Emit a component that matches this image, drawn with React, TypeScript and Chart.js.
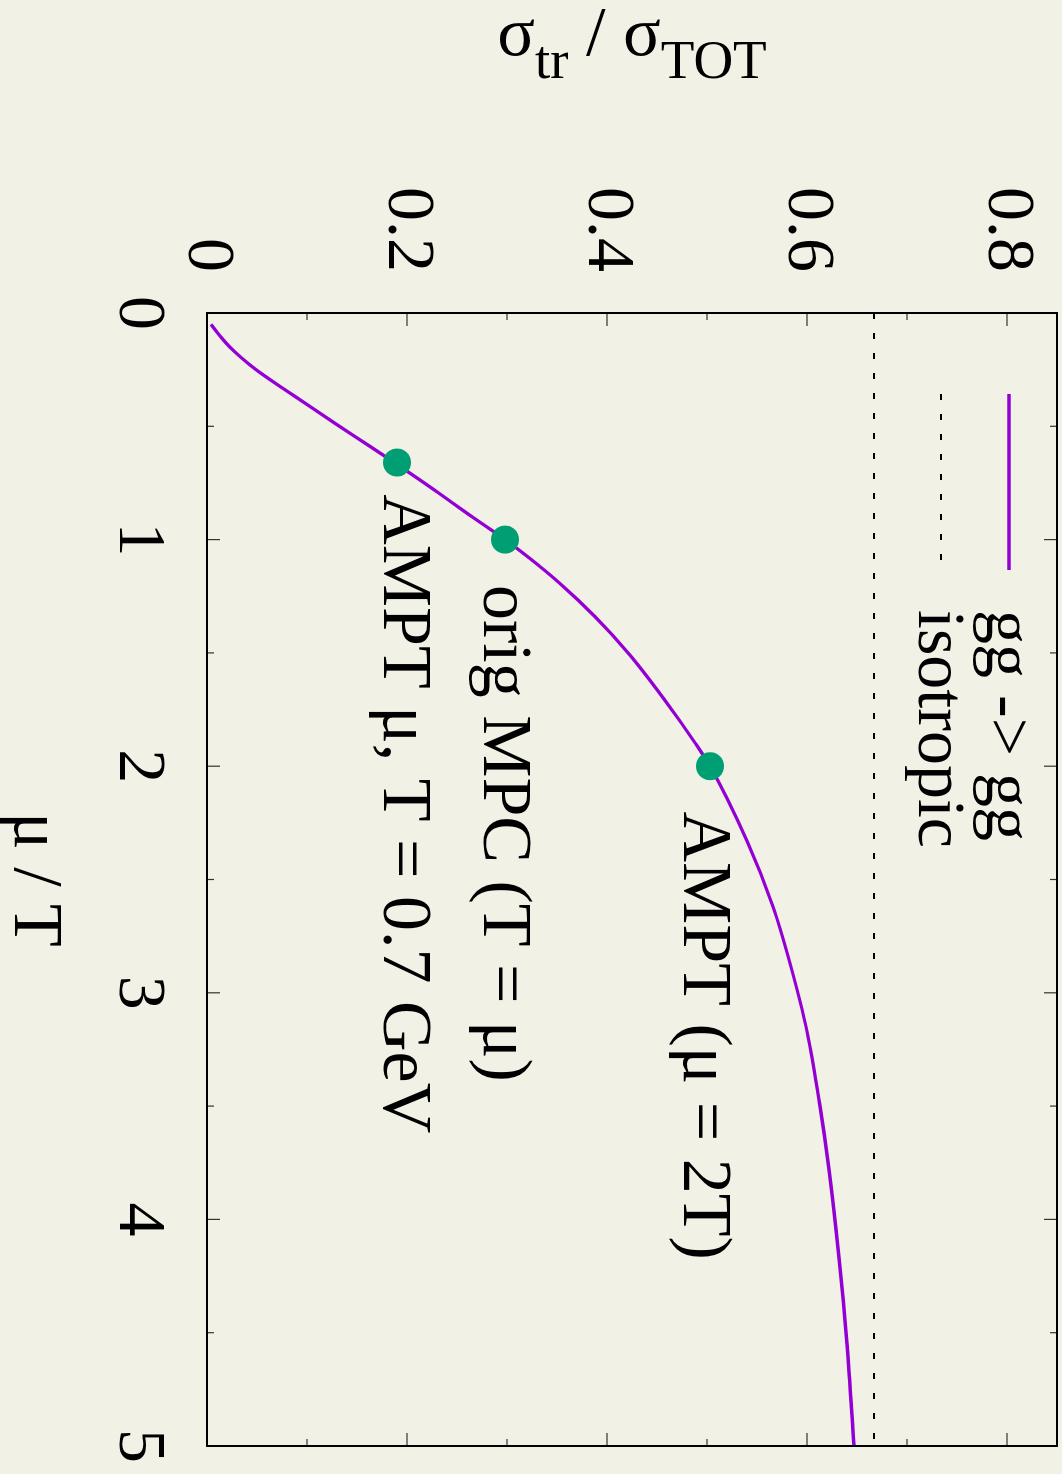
import { useEffect, useRef } from 'react';
import { Chart, registerables } from 'chart.js';

Chart.register(...registerables);

// Landscape drawing size; the whole chart is turned a quarter turn clockwise on the page.
const W = 1474;
const H = 1062;
const BG = '#f2f1e6';
const FONT = '"Liberation Serif", "Times New Roman", serif';

// Transport / total cross-section ratio for gg -> gg versus screening mass over temperature
const muOverT = [
  0.05, 0.1, 0.15, 0.2, 0.25, 0.3, 0.38, 0.49, 0.58, 0.665, 0.78, 0.89, 1.0, 1.08, 1.19,
  1.34, 1.51, 1.7, 1.9, 2.0, 2.33, 2.62, 2.87, 3.17, 3.5, 3.78, 4.17, 4.55, 5.0,
];
const sigmaRatio = [
  0.004, 0.0128, 0.0228, 0.035, 0.049, 0.065, 0.092, 0.129, 0.16, 0.189, 0.227, 0.262, 0.298,
  0.322, 0.352, 0.388, 0.423, 0.4564, 0.4885, 0.503, 0.54, 0.566, 0.583, 0.6, 0.613, 0.622, 0.632,
  0.64, 0.647,
];

// Model settings marked on the curve
const pointMuOverT = [0.66, 1.0, 2.0];
const pointRatio = [0.19, 0.298, 0.503];

// Isotropic limit
const isotropicMu = [0, 5];
const isotropicRatio = 0.667;

// Axis ticks
const xMajorTicks = [0, 1, 2, 3, 4, 5];
const xMinorTicks = [0.5, 1.5, 2.5, 3.5, 4.5];
const yMajorTicks = [0, 0.2, 0.4, 0.6, 0.8];
const yMinorTicks = [0.1, 0.3, 0.5, 0.7];

// Text notes next to the marked points
const noteTexts = ['AMPT \u03bc, T = 0.7 GeV', 'orig MPC (T = \u03bc)', 'AMPT (\u03bc = 2T)'];
const noteMu = [0.8, 1.2, 2.2];
const noteRatio = [0.2, 0.3, 0.5];

const seriesNames = ['gg -> gg', 'isotropic'];

const CURVE_COLOR = '#9400d3';
const POINT_COLOR = '#009e73';
const CURVE_WIDTH = 3.3;
const DASH = [6, 14];

const decorations = {
  id: 'decorations',
  afterDraw(chart: any) {
    const { ctx, chartArea: a, scales } = chart;
    const xs = scales.x;
    const ys = scales.y;
    ctx.save();

    // inward tick marks on all four sides
    ctx.strokeStyle = '#333';
    ctx.lineWidth = 1.2;
    const seg = (x1: number, y1: number, x2: number, y2: number) => {
      ctx.beginPath();
      ctx.moveTo(x1, y1);
      ctx.lineTo(x2, y2);
      ctx.stroke();
    };
    const xt: [number, number][] = [
      ...xMajorTicks.map((v) => [v, 13] as [number, number]),
      ...xMinorTicks.map((v) => [v, 7] as [number, number]),
    ];
    xt.forEach(([v, len]) => {
      const px = xs.getPixelForValue(v);
      seg(px, a.bottom, px, a.bottom - len);
      seg(px, a.top, px, a.top + len);
    });
    const yt: [number, number][] = [
      ...yMajorTicks.map((v) => [v, 13] as [number, number]),
      ...yMinorTicks.map((v) => [v, 7] as [number, number]),
    ];
    yt.forEach(([v, len]) => {
      const py = ys.getPixelForValue(v);
      seg(a.left, py, a.left + len, py);
      seg(a.right, py, a.right - len, py);
    });

    // frame
    ctx.strokeStyle = '#000';
    ctx.lineWidth = 2;
    ctx.strokeRect(a.left, a.top, a.right - a.left, a.bottom - a.top);

    // key
    const keyX1 = a.left + 81;
    const keyX2 = a.left + 257;
    const rowY = [a.top + 48, a.top + 116];
    ctx.strokeStyle = CURVE_COLOR;
    ctx.lineWidth = CURVE_WIDTH;
    seg(keyX1, rowY[0], keyX2, rowY[0]);
    ctx.strokeStyle = '#000';
    ctx.lineWidth = 2;
    ctx.setLineDash(DASH);
    seg(keyX1, rowY[1], keyX2, rowY[1]);
    ctx.setLineDash([]);
    ctx.fillStyle = '#000';
    ctx.font = `68px ${FONT}`;
    ctx.textAlign = 'left';
    ctx.textBaseline = 'alphabetic';
    seriesNames.forEach((name, i) => ctx.fillText(name, a.left + 297, rowY[i] + 22));

    // notes
    ctx.font = `70px ${FONT}`;
    noteTexts.forEach((t, i) => {
      ctx.fillText(t, xs.getPixelForValue(noteMu[i]), ys.getPixelForValue(noteRatio[i]) + 23);
    });

    // x title
    ctx.textAlign = 'center';
    ctx.fillText('\u03bc / T', (a.left + a.right) / 2, 1047);

    // y title with subscripts
    const parts = [
      { t: '\u03c3', s: 70, dy: 0 },
      { t: 'tr', s: 55, dy: 23 },
      { t: ' / \u03c3', s: 70, dy: 0 },
      { t: 'TOT', s: 55, dy: 23 },
    ];
    let total = 0;
    parts.forEach((p) => {
      ctx.font = `${p.s}px ${FONT}`;
      total += ctx.measureText(p.t).width;
    });
    ctx.translate(55, (a.top + a.bottom) / 2);
    ctx.rotate(-Math.PI / 2);
    ctx.textAlign = 'left';
    let cx = -total / 2;
    parts.forEach((p) => {
      ctx.font = `${p.s}px ${FONT}`;
      ctx.fillText(p.t, cx, p.dy);
      cx += ctx.measureText(p.t).width;
    });

    ctx.restore();
  },
};

// fixed axis band sizes, without the extra room Chart.js reserves for edge labels
const fixBand = (size: 'width' | 'height', value: number) => (s: any) => {
  s[size] = value;
  s.paddingTop = 0;
  s.paddingBottom = 0;
  s.paddingLeft = 0;
  s.paddingRight = 0;
};

export default function App() {
  const canvasRef = useRef<HTMLCanvasElement | null>(null);

  useEffect(() => {
    document.body.style.margin = '0';
    document.body.style.overflow = 'hidden';
    document.body.style.background = BG;
    const canvas = canvasRef.current;
    if (!canvas) return;

    const chart = new Chart(canvas, {
      type: 'line',
      data: {
        datasets: [
          {
            label: 'points',
            data: pointMuOverT.map((x, i) => ({ x, y: pointRatio[i] })),
            showLine: false,
            pointRadius: 14,
            pointBackgroundColor: POINT_COLOR,
            pointBorderWidth: 0,
            borderColor: POINT_COLOR,
          },
          {
            label: seriesNames[0],
            data: muOverT.map((x, i) => ({ x, y: sigmaRatio[i] })),
            borderColor: CURVE_COLOR,
            borderWidth: CURVE_WIDTH,
            pointRadius: 0,
            cubicInterpolationMode: 'monotone',
            fill: false,
          },
          {
            label: seriesNames[1],
            data: isotropicMu.map((x) => ({ x, y: isotropicRatio })),
            borderColor: '#000',
            borderWidth: 2,
            borderDash: DASH,
            pointRadius: 0,
            fill: false,
          },
        ],
      } as any,
      options: {
        responsive: false,
        animation: false,
        events: [],
        layout: { autoPadding: false, padding: { left: 0, top: 5, right: 28, bottom: 0 } },
        plugins: { legend: false, title: false, subtitle: false, tooltip: { enabled: false } },
        scales: {
          x: {
            type: 'linear',
            min: 0,
            max: 5,
            grid: { display: false, drawTicks: false },
            border: { display: false },
            ticks: {
              stepSize: 1,
              padding: 28,
              color: '#000',
              font: { family: FONT, size: 68 },
              maxRotation: 0,
              callback: (v: any) => String(v),
            },
            afterFit: fixBand('height', 207),
          },
          y: {
            type: 'linear',
            min: 0,
            max: 0.85,
            grid: { display: false, drawTicks: false },
            border: { display: false },
            ticks: {
              stepSize: 0.2,
              includeBounds: false,
              padding: 41,
              color: '#000',
              font: { family: FONT, size: 68 },
              callback: (v: any) => (Number(v) === 0 ? '0' : Number(v).toFixed(1)),
            },
            afterFit: fixBand('width', 313),
          },
        },
      } as any,
      plugins: [decorations],
    });

    return () => chart.destroy();
  }, []);

  return (
    <div
      style={{
        position: 'absolute',
        left: 0,
        top: 0,
        width: W,
        height: H,
        background: BG,
        transformOrigin: '0 0',
        transform: `translate(${H}px, 0) rotate(90deg)`,
      }}
    >
      <canvas ref={canvasRef} width={W} height={H} style={{ width: W, height: H, display: 'block' }} />
    </div>
  );
}
